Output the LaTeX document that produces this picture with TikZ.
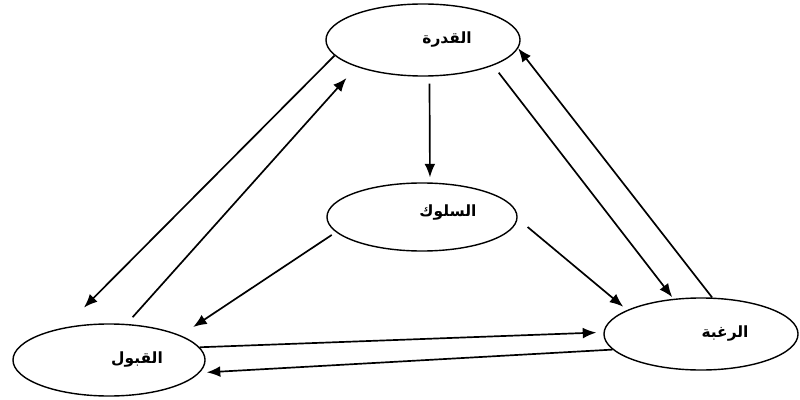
\documentclass[tikz,border=0pt]{standalone}
\usepackage{fontspec}
\usetikzlibrary{shapes.geometric, arrows.meta}
\newfontfamily\arabicfont[Script=Arabic]{DejaVu Sans}
\TeXXeTstate=1

\begin{document}
\begin{tikzpicture}[x=0.025cm, y=-0.025cm,
  term/.style={draw, ellipse, line width=1pt, minimum width=4.85cm, minimum height=1.8cm, inner sep=0pt},
  word/.style={font=\arabicfont\bfseries\fontsize{11}{13}\selectfont, inner sep=0pt},
  link/.style={-{Latex[length=3.4mm, width=2.7mm]}, line width=1.2pt}]
\useasboundingbox (0,0) rectangle (800,400);
% the four ellipses
\node[term] (qudra) at (423,40) {};
\node[term, minimum width=4.75cm, minimum height=1.7cm] (suluk) at (422,217) {};
\node[term, minimum width=4.8cm] (qubul) at (109,360) {};
\node[term] (raghba) at (701,334) {};
% their words, set a little right of centre
\node[word] (qudra-t) at ([xshift=6mm]qudra.center) {\beginR القدرة\endR};
\node[word] (suluk-t) at ([xshift=6.5mm, yshift=1mm]suluk.center) {\beginR السلوك\endR};
\node[word] (qubul-t) at ([xshift=7mm]qubul.center) {\beginR القبول\endR};
\node[word] (raghba-t) at ([xshift=6mm]raghba.center) {\beginR الرغبة\endR};
% arrows
\draw[link, shorten <=1.75mm, shorten >=1.25mm] (qudra.-80) -- (suluk.77);
\draw[link, shorten >=7mm] (qudra.190) -- (qubul.144);
\draw[link, shorten <=2.25mm, shorten >=3.75mm] (qubul.64) -- (qudra.202);
\draw[link, shorten <=1.25mm, shorten >=3.75mm] (suluk.190) -- (qubul.19);
\draw[link, shorten <=3.25mm, shorten >=1.25mm] (suluk.-1) -- (raghba.162);
\draw[link, shorten <=2.25mm, shorten >=0.5mm] (qudra.-20) -- (raghba.128);
\draw[link] (raghba.73) -- (qudra.-5);
\draw[link, shorten >=1.75mm] (qubul.8) -- (raghba.179);
\draw[link, shorten >=1.75mm] (raghba.190) -- (qubul.-8);
\end{tikzpicture}
\end{document}
